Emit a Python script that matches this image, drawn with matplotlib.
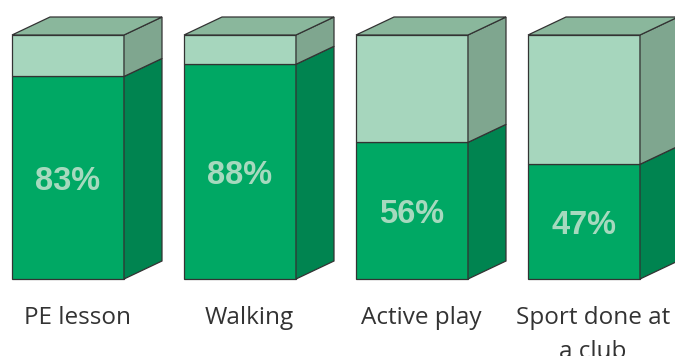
import matplotlib.pyplot as plt
from matplotlib.patches import Polygon

categories = ["PE lesson", "Walking", "Active play", "Sport done at\na club"]
percent = [83, 88, 56, 47]

# colours for the two stacked parts
front_dark, side_dark = "#00a864", "#008450"
front_light, side_light = "#a6d6bd", "#7fa68f"
top_col = "#8ab79c"
edge = "#333333"

fig = plt.figure(figsize=(6.75, 3.56), dpi=100)
ax = fig.add_axes([0, 0, 1, 1])
ax.set_xlim(0, 675)
# y in percent: 0% sits at pixel row 279, 100% at row 35
px = 244 / 100.0
ax.set_ylim((279 - 356) / px, 279 / px)
ax.axis("off")

left0, step, width = 12, 172, 112
dx, dy = 38, 18 / px


def face(pts, color):
    ax.add_patch(Polygon(pts, closed=True, facecolor=color, edgecolor=edge,
                         linewidth=0.9, joinstyle="miter"))


for i, (cat, p) in enumerate(zip(categories, percent)):
    x0 = left0 + i * step
    x1 = x0 + width
    # front faces
    face([(x0, 0), (x1, 0), (x1, p), (x0, p)], front_dark)
    face([(x0, p), (x1, p), (x1, 100), (x0, 100)], front_light)
    # right-hand side faces
    face([(x1, 0), (x1 + dx, dy), (x1 + dx, p + dy), (x1, p)], side_dark)
    face([(x1, p), (x1 + dx, p + dy), (x1 + dx, 100 + dy), (x1, 100)], side_light)
    # top
    face([(x0, 100), (x0 + dx, 100 + dy), (x1 + dx, 100 + dy), (x1, 100)], top_col)

    ax.text((x0 + x1) / 2, p / 2 - 12.5 / px, f"{p}%", ha="center",
            va="baseline", fontsize=23.5, fontweight="bold", color="#a6d9be",
            family="Liberation Sans")
    # category name, one line at a time
    for j, line in enumerate(cat.split("\n")):
        ax.text((x0 + x1) / 2 + 9, (279 - 324 - 34 * j) / px, line,
                ha="center", va="baseline", fontsize=17.5, color="#333333",
                family="Open Sans")

fig.savefig("out.png", dpi=100)
